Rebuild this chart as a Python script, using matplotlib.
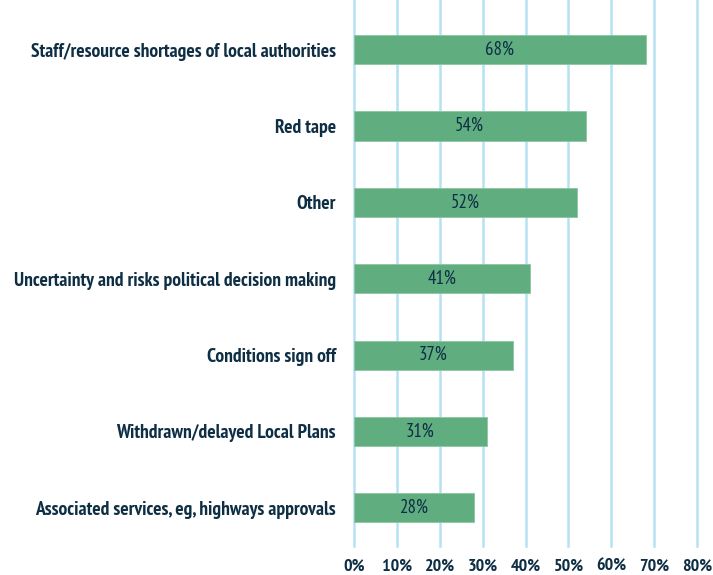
import matplotlib
matplotlib.use("Agg")
import matplotlib.pyplot as plt
from matplotlib.ticker import FuncFormatter

categories = [
    "Staff/resource shortages of local authorities",
    "Red tape",
    "Other",
    "Uncertainty and risks political decision making",
    "Conditions sign off",
    "Withdrawn/delayed Local Plans",
    "Associated services, eg, highways approvals",
]
values = [68, 54, 52, 41, 37, 31, 28]
xticks = [0, 10, 20, 30, 40, 50, 60, 70, 80]

navy = "#0e2e44"
green = "#60ad80"
grid = "#b5e1f3"
fam = ["PT Sans Narrow", "DejaVu Sans"]

fig = plt.figure(figsize=(7.13, 5.75), dpi=100)
ax = fig.add_axes([354/713, 1 - 546/575, (697 - 354)/713, 546/575])

ypos = list(range(len(categories)))
bars = ax.barh(ypos, values, height=0.38, color=green, edgecolor="#8cc7a3", linewidth=0.6, zorder=3)
for y, v in zip(ypos, values):
    ax.text(v / 2, y, f"{v}%", ha="center", va="center", color=navy,
            fontsize=13.5, family=fam, zorder=4)

ax.set_xlim(0, 80)
ax.set_ylim(6.5, -0.65)
ax.set_xticks(xticks)
ax.xaxis.set_major_formatter(FuncFormatter(lambda x, p: f"{int(x)}%"))
ax.set_yticks(ypos)
ax.set_yticklabels(categories)
for lab in ax.get_yticklabels():
    lab.set_fontfamily(fam)
    lab.set_fontweight("bold")
    lab.set_fontsize(14)
    lab.set_color(navy)
for lab in ax.get_xticklabels():
    lab.set_fontfamily(fam)
    lab.set_fontweight("bold")
    lab.set_fontsize(13)
    lab.set_color(navy)
ax.tick_params(axis="both", length=0)
ax.tick_params(axis="y", pad=13)
ax.tick_params(axis="x", pad=9)
ax.grid(axis="x", color=grid, linewidth=1.8, zorder=0)
for gl in ax.get_xgridlines():
    gl.set_clip_on(False)
ax.set_axisbelow(True)
for s in ax.spines.values():
    s.set_visible(False)

fig.savefig("out.png", dpi=100)
